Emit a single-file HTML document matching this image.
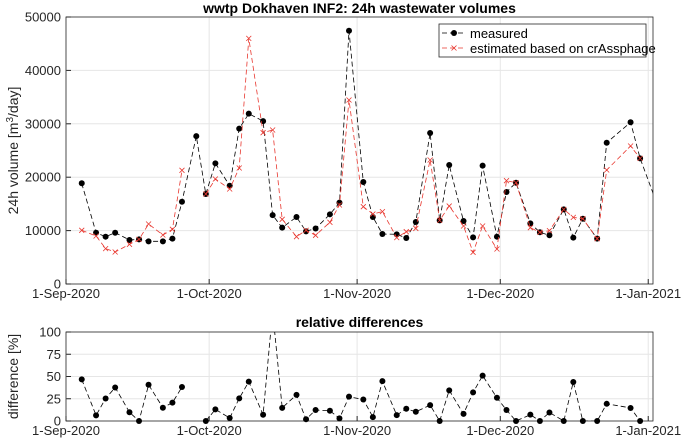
<!DOCTYPE html>
<html><head><meta charset="utf-8"><style>
body{margin:0;background:#fff;}
svg{display:block;font-family:"Liberation Sans",Arial,sans-serif;}
</style></head><body>
<svg id="chart" width="682" height="444" viewBox="0 0 682 444">
<defs>
<clipPath id="topclip"><rect x="66" y="17" width="587" height="267"/></clipPath>
<clipPath id="botclip"><rect x="66" y="332" width="587" height="89"/></clipPath>
</defs>
<g id="g"></g>
</svg>
<script>
const days = [3,6,8,10,13,15,17,20,22,24,27,29,31,34,36,38,41,43,45,48,50,52,55,57,59,62,64,66,69,71,73,76,78,80,83,85,87,90,92,94,97,99,101,104,106,108,111,113,118,120,123];
const measured = [18860,9600,8860,9600,8240,8360,7990,7990,8490,15400,27700,16850,22600,18400,29100,31900,30500,12900,10550,12550,9860,10400,13050,15230,47430,19100,12550,9360,9300,8610,11600,28280,11920,22280,11800,8740,22160,8860,17230,18970,11360,9680,9120,13980,8680,12230,8490,26460,30280,23530,16330];
const estimated = [10050,8990,6620,5990,7430,8360,11240,9180,10240,21290,null,16850,19660,17790,21720,46000,28340,28840,12110,8860,10050,9120,11550,14790,34460,14480,13100,13550,8680,9800,10400,23220,11920,14600,10860,5930,10860,6550,19350,18970,10550,9680,9990,13980,12480,12230,8490,21350,25840,23530,null];
const xTickDays = [0,30,61,91,122];
const xTickLabels = ["1-Sep-2020","1-Oct-2020","1-Nov-2020","1-Dec-2020","1-Jan-2021"];
const yTicksTop = [0,10000,20000,30000,40000,50000];
const yTicksBot = [0,25,50,75,100];

const NS="http://www.w3.org/2000/svg";
const g=document.getElementById('g');
function el(tag,attrs,parent){const e=document.createElementNS(NS,tag);for(const k in attrs)e.setAttribute(k,attrs[k]);(parent||g).appendChild(e);return e;}
const X0=66,X1=653;
const x=d=>X0+(d+0.3)*(X1-X0)/123;
const xt=d=>X0+d*(X1-X0)/123;
const yTop=v=>284-v*(267/50000);
const yBot=v=>421-v*(89/100);

function axes(yf,ticks,top,bot,labelY,title,titleY,name){
  const ax=el('g',{});
  
  
  el('rect',{x:X0,y:top,width:X1-X0,height:bot-top,fill:'#fff'},ax);
  ticks.forEach(t=>{
    el('line',{x1:X0,x2:X1,y1:yf(t),y2:yf(t),stroke:'#e6e6e6','stroke-width':1},ax);
    el('line',{x1:X0,x2:X0+5,y1:yf(t),y2:yf(t),stroke:'#262626'},ax);
    const tx=el('text',{x:X0-5,y:yf(t)+4.5,'text-anchor':'end','font-size':13,fill:'#262626'},ax);
    
    
    tx.textContent=t;
  });
  xTickDays.forEach((d,i)=>{
    el('line',{x1:xt(d),x2:xt(d),y1:top,y2:bot,stroke:'#e6e6e6'},ax);
    el('line',{x1:xt(d),x2:xt(d),y1:bot,y2:bot-5,stroke:'#262626'},ax);
    const tx=el('text',{x:xt(d),y:bot+14,'text-anchor':'middle','font-size':13,fill:'#262626'},ax);
    
    
    tx.textContent=xTickLabels[i];
  });
  el('rect',{x:X0,y:top,width:X1-X0,height:bot-top,fill:'none',stroke:'#262626','stroke-width':0.8},ax);
  const tt=el('text',{x:(X0+X1)/2,y:titleY,'text-anchor':'middle','font-size':14,'font-weight':'bold',fill:'#000'},ax);
  
  
  tt.textContent=title;
  const yl=el('text',{x:0,y:0,transform:`translate(${labelY},${(top+bot)/2}) rotate(-90)`,'text-anchor':'middle','font-size':14,fill:'#262626'},ax);
  
  
  return yl;
}
const yl=axes(yTop,yTicksTop,17,284,18,'wwtp Dokhaven INF2: 24h wastewater volumes',13,'volume-axes');
yl.innerHTML='24h volume [m<tspan dy="-5" font-size="10">3</tspan><tspan dy="5">/day]</tspan>';
const yl2=axes(yBot,yTicksBot,332,421,18,'relative differences',327,'difference-axes');
yl2.textContent='difference [%]';

function series(vals,yf,clip,color,marker,name,top,bot){
  const s=el('g',{});
  
  
  const lg=el('g',{'clip-path':`url(#${clip})`},s);
  let segs=[],cur=[];
  vals.forEach((v,i)=>{if(v==null){if(cur.length)segs.push(cur);cur=[];}else cur.push(x(days[i]).toFixed(1)+','+yf(v).toFixed(1));});
  if(cur.length)segs.push(cur);
  segs.forEach(p=>el('polyline',{points:p.join(' '),fill:'none',stroke:color,'stroke-width':0.8,'stroke-dasharray':'5,3'},lg));
  vals.forEach((v,i)=>{
    if(v==null)return;
    const cx=x(days[i]),cy=yf(v);
    if(cx>X1+0.5||cy<top-0.5||cy>bot+0.5)return;
    let m;
    if(marker==='dot'){m=el('circle',{cx,cy,r:3,fill:'#000'},s);}
    else{m=el('path',{d:`M${cx-2.5},${cy-2.5}L${cx+2.5},${cy+2.5}M${cx-2.5},${cy+2.5}L${cx+2.5},${cy-2.5}`,stroke:color,'stroke-width':0.8},s);}
    
    
  });
}
series(measured,yTop,'topclip','#000','dot','measured-series',17,284);
series(estimated,yTop,'topclip','#e8372f','x','estimated-series',17,284);
const diffs=measured.map((m,i)=>estimated[i]==null?null:Math.abs(estimated[i]-m)/m*100);
series(diffs,yBot,'botclip','#000','dot','difference-series',332,421);

// legend
const lg=el('g',{});


el('rect',{x:439,y:24,width:207,height:33,fill:'#fff',stroke:'#262626','stroke-width':0.8},lg);
el('line',{x1:442,x2:466,y1:33,y2:33,stroke:'#000','stroke-width':0.8,'stroke-dasharray':'5,3'},lg);
el('circle',{cx:454,cy:33,r:3,fill:'#000'},lg);
const l1=el('text',{x:470,y:38,'font-size':13,fill:'#000'},lg);


l1.textContent='measured';
el('line',{x1:442,x2:466,y1:48,y2:48,stroke:'#e8372f','stroke-width':0.8,'stroke-dasharray':'5,3'},lg);
el('path',{d:'M451.5,45.5L456.5,50.5M451.5,50.5L456.5,45.5',stroke:'#e8372f','stroke-width':0.8},lg);
const l2=el('text',{x:470,y:53,'font-size':13,fill:'#000'},lg);


l2.textContent='estimated based on crAssphage';
</script>
</body></html>
